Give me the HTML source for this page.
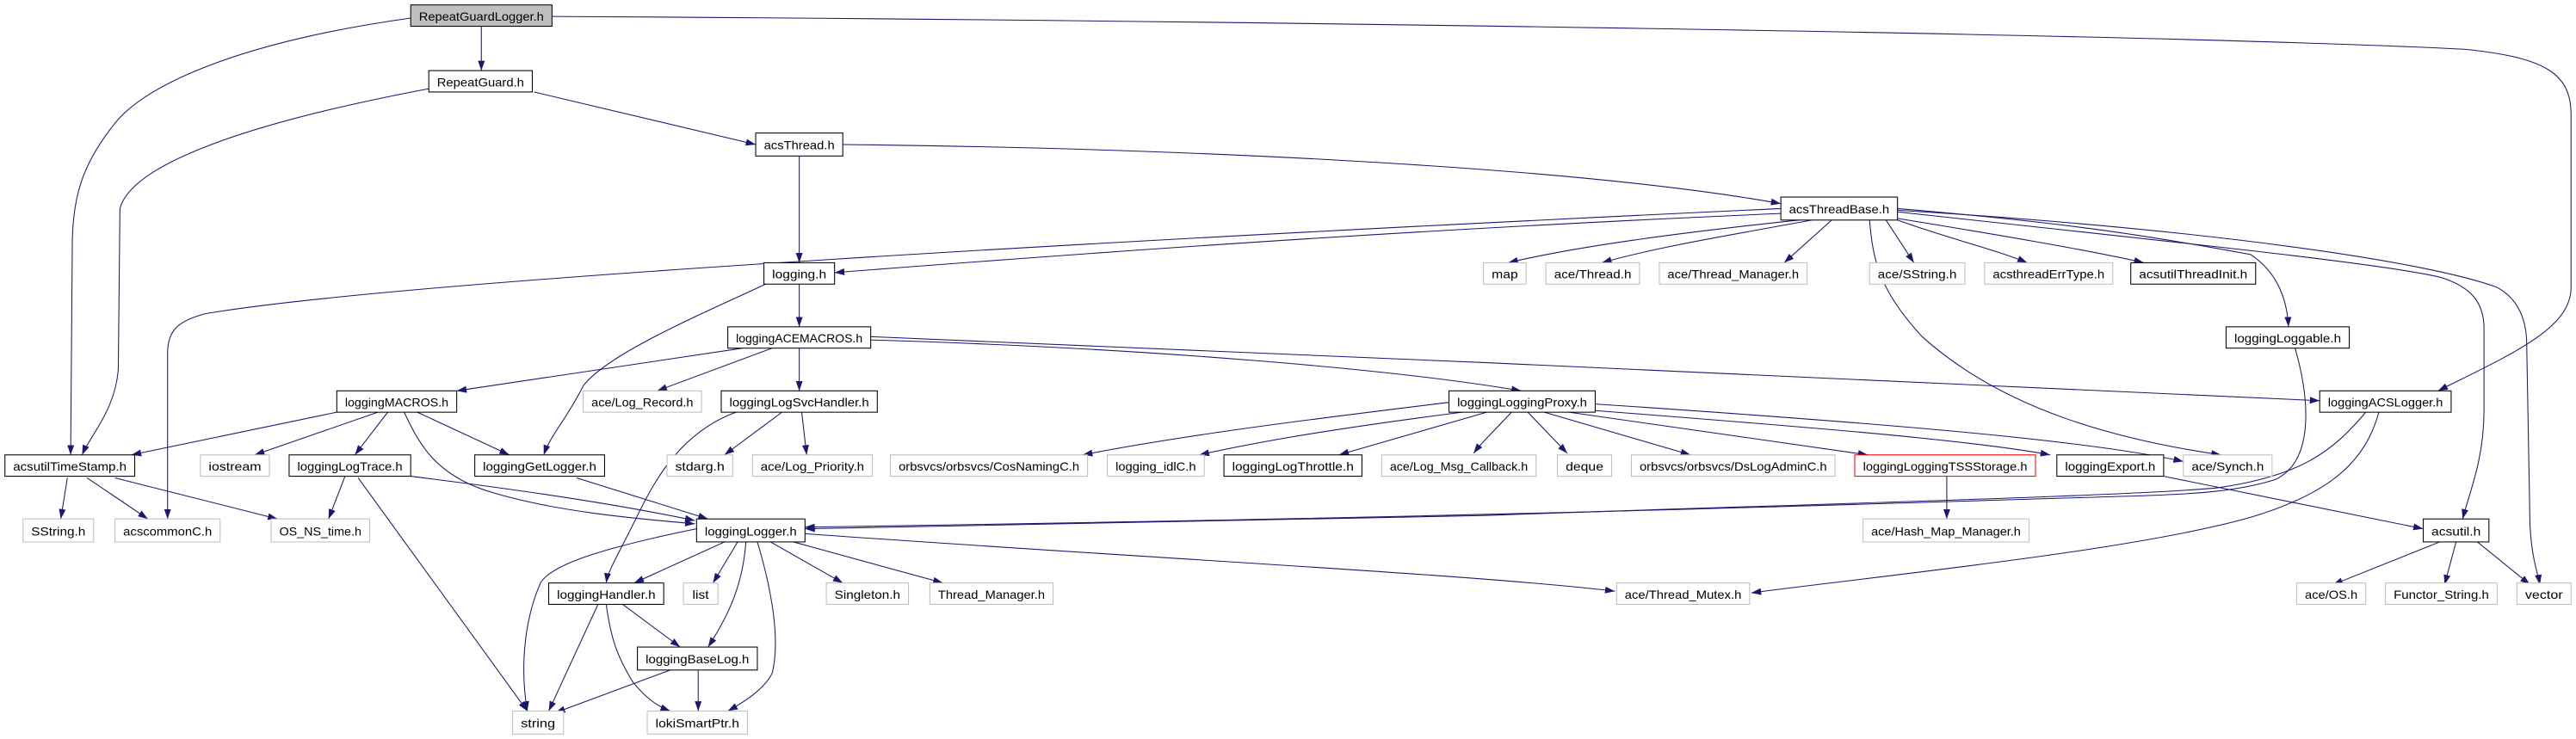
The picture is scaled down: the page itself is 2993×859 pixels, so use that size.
<!DOCTYPE html>
<html><head><meta charset="utf-8"><style>
html,body{margin:0;padding:0;background:#fff;}
svg{display:block;}
text{font-family:"Liberation Sans",sans-serif;font-size:7px;fill:#000;}
.e{fill:none;stroke:#191970;stroke-width:0.55;}
.b{fill:#fff;stroke:#000;stroke-width:0.55;}
.g{fill:#fff;stroke:#bfbfbf;stroke-width:0.55;}
.r{fill:#fff;stroke:#f00;stroke-width:0.55;}
</style></head><body>
<svg width="2993" height="859" viewBox="0 0 1568 450" preserveAspectRatio="none" xmlns="http://www.w3.org/2000/svg">
<defs><marker id="a" viewBox="0 0 10 7" refX="10" refY="3.5" markerWidth="6" markerHeight="4.2" markerUnits="userSpaceOnUse" orient="auto"><path d="M0,0L10,3.5L0,7z" fill="#191970"/></marker></defs>
<g marker-end="url(#a)">
<path class="e" d="M293,16 L293,43"/>
<path class="e" d="M250,11 C150,25 90,50 70,75 C50,100 44,120 44,150 L43,277"/>
<path class="e" d="M336,10 C700,12 1300,20 1500,30 C1550,35 1565,45 1565,70 L1565,175 C1565,200 1530,215 1484,238"/>
<path class="e" d="M325,56 L460,88"/>
<path class="e" d="M261,54 C150,75 80,100 73,127 L72,225 C70,250 55,265 50,277"/>
<path class="e" d="M513,88 C700,90 950,100 1084,124"/>
<path class="e" d="M486.5,95 L486.5,160"/>
<path class="e" d="M1084,127 C700,145 250,170 125,191 C110,195 102,200 102,215 L102,316"/>
<path class="e" d="M1084,130 C850,140 650,155 508,166"/>
<path class="e" d="M1095,134 C1020,142 960,150 918,160"/>
<path class="e" d="M1103,134 C1060,142 1010,150 975,160"/>
<path class="e" d="M1115,134 L1086,160"/>
<path class="e" d="M1148,134 L1165,160"/>
<path class="e" d="M1155,134 C1185,145 1215,152 1234,160"/>
<path class="e" d="M1155,133 C1210,142 1270,152 1305,160"/>
<path class="e" d="M1155,127 C1250,135 1300,142 1370,155 C1385,165 1392,180 1393,199"/>
<path class="e" d="M1155,129 C1300,145 1450,160 1486,169 C1505,175 1512,185 1512,200 L1512,250 C1512,280 1503,300 1499,316"/>
<path class="e" d="M1155,128 C1350,140 1480,160 1520,175 C1533,182 1538,195 1538,210 L1540,320 C1541,340 1545,350 1546,356"/>
<path class="e" d="M1138,134 C1140,160 1145,178 1170,205 C1220,250 1290,268 1352,277"/>
<path class="e" d="M486.5,173 L486.5,199"/>
<path class="e" d="M466,173 C430,190 370,215 355,235 C345,255 335,265 331,277"/>
<path class="e" d="M452,212 L278,238"/>
<path class="e" d="M470,212 L400,238"/>
<path class="e" d="M486.5,212 L486.5,238"/>
<path class="e" d="M530,207 C700,212 850,225 926,238"/>
<path class="e" d="M530,205 C800,215 1200,235 1412,244"/>
<path class="e" d="M205,251 L80,277"/>
<path class="e" d="M230,251 L155,277"/>
<path class="e" d="M236,251 L216,277"/>
<path class="e" d="M254,251 L310,277"/>
<path class="e" d="M246,251 C255,270 265,290 300,300 C340,312 390,316 423,319"/>
<path class="e" d="M476,251 L441,277"/>
<path class="e" d="M488,251 L491,277"/>
<path class="e" d="M448,251 C410,265 395,300 385,320 C375,340 370,348 369,355"/>
<path class="e" d="M210,290 L200,316"/>
<path class="e" d="M218,291 L321,433"/>
<path class="e" d="M250,290 C330,300 380,308 423,317"/>
<path class="e" d="M351,291 L431,316"/>
<path class="e" d="M41,291 L37,316"/>
<path class="e" d="M53,291 L90,316"/>
<path class="e" d="M70,291 L169,316"/>
<path class="e" d="M424,322 C360,335 335,345 329,355 C318,380 317,410 321,433"/>
<path class="e" d="M441,330 L386,355"/>
<path class="e" d="M449,330 L434,355"/>
<path class="e" d="M454,330 C452,360 440,380 431,394"/>
<path class="e" d="M461,330 C470,360 475,390 470,410 C465,420 452,428 443,433"/>
<path class="e" d="M469,330 L513,355"/>
<path class="e" d="M483,330 L574,355"/>
<path class="e" d="M490,325 C700,340 900,350 983,360"/>
<path class="e" d="M364,368 L334,433"/>
<path class="e" d="M369,368 C372,390 376,400 385,415 C393,425 400,430 408,433"/>
<path class="e" d="M379,368 L414,394"/>
<path class="e" d="M408,408 L338,434"/>
<path class="e" d="M425,408 L425,433"/>
<path class="e" d="M882,245 C800,255 720,265 659,277"/>
<path class="e" d="M890,251 C820,260 770,268 730,277"/>
<path class="e" d="M905,251 L815,277"/>
<path class="e" d="M920,251 C910,262 903,268 897,276"/>
<path class="e" d="M930,251 L954,276"/>
<path class="e" d="M940,251 L1029,277"/>
<path class="e" d="M955,251 L1137,277"/>
<path class="e" d="M971,250 C1100,260 1200,268 1248,277"/>
<path class="e" d="M971,246 C1150,258 1270,268 1329,281"/>
<path class="e" d="M1185,290 L1185,316"/>
<path class="e" d="M1317,290 L1475,322"/>
<path class="e" d="M1397,212 C1405,240 1410,280 1385,292 C1360,300 1330,301 1300,302 C1100,308 900,315 490,321"/>
<path class="e" d="M1440,251 C1420,275 1400,290 1350,297 C1300,302 1100,307 900,314 C750,318 600,321 490,322"/>
<path class="e" d="M1448,251 C1440,280 1420,300 1370,315 C1300,335 1150,350 1066,361"/>
<path class="e" d="M1485,330 L1420,356"/>
<path class="e" d="M1495,330 L1488,356"/>
<path class="e" d="M1508,330 L1540,356"/>
</g>
<g>
<rect x="250" y="3" width="86" height="13" fill="#bfbfbf" stroke="#000" stroke-width="0.55"/><text x="293" y="12.6" text-anchor="middle" textLength="76" lengthAdjust="spacingAndGlyphs">RepeatGuardLogger.h</text>
<rect class="b" x="261" y="43" width="63" height="13"/><text x="292.5" y="52.6" text-anchor="middle" textLength="53" lengthAdjust="spacingAndGlyphs">RepeatGuard.h</text>
<rect class="b" x="460" y="81" width="53" height="14"/><text x="486.5" y="91" text-anchor="middle" textLength="43" lengthAdjust="spacingAndGlyphs">acsThread.h</text>
<rect class="b" x="1084" y="120" width="71" height="14"/><text x="1119.5" y="130" text-anchor="middle" textLength="61" lengthAdjust="spacingAndGlyphs">acsThreadBase.h</text>
<rect class="b" x="465" y="160" width="43" height="13"/><text x="486.5" y="169.6" text-anchor="middle" textLength="33" lengthAdjust="spacingAndGlyphs">logging.h</text>
<rect class="g" x="903" y="160" width="26" height="13"/><text x="916" y="169.6" text-anchor="middle" textLength="16" lengthAdjust="spacingAndGlyphs">map</text>
<rect class="g" x="941" y="160" width="57" height="13"/><text x="969.5" y="169.6" text-anchor="middle" textLength="47" lengthAdjust="spacingAndGlyphs">ace/Thread.h</text>
<rect class="g" x="1010" y="160" width="90" height="13"/><text x="1055" y="169.6" text-anchor="middle" textLength="80" lengthAdjust="spacingAndGlyphs">ace/Thread_Manager.h</text>
<rect class="g" x="1138" y="160" width="58" height="13"/><text x="1167" y="169.6" text-anchor="middle" textLength="48" lengthAdjust="spacingAndGlyphs">ace/SString.h</text>
<rect class="g" x="1208" y="160" width="78" height="13"/><text x="1247" y="169.6" text-anchor="middle" textLength="68" lengthAdjust="spacingAndGlyphs">acsthreadErrType.h</text>
<rect class="b" x="1297" y="160" width="76" height="13"/><text x="1335" y="169.6" text-anchor="middle" textLength="66" lengthAdjust="spacingAndGlyphs">acsutilThreadInit.h</text>
<rect class="b" x="443" y="199" width="87" height="13"/><text x="486.5" y="208.6" text-anchor="middle" textLength="77" lengthAdjust="spacingAndGlyphs">loggingACEMACROS.h</text>
<rect class="b" x="1355" y="199" width="75" height="13"/><text x="1392.5" y="208.6" text-anchor="middle" textLength="65" lengthAdjust="spacingAndGlyphs">loggingLoggable.h</text>
<rect class="b" x="205" y="238" width="73" height="13"/><text x="241.5" y="247.6" text-anchor="middle" textLength="63" lengthAdjust="spacingAndGlyphs">loggingMACROS.h</text>
<rect class="g" x="355" y="238" width="72" height="13"/><text x="391" y="247.6" text-anchor="middle" textLength="62" lengthAdjust="spacingAndGlyphs">ace/Log_Record.h</text>
<rect class="b" x="439" y="238" width="95" height="13"/><text x="486.5" y="247.6" text-anchor="middle" textLength="85" lengthAdjust="spacingAndGlyphs">loggingLogSvcHandler.h</text>
<rect class="b" x="882" y="238" width="89" height="13"/><text x="926.5" y="247.6" text-anchor="middle" textLength="79" lengthAdjust="spacingAndGlyphs">loggingLoggingProxy.h</text>
<rect class="b" x="1412" y="238" width="80" height="13"/><text x="1452" y="247.6" text-anchor="middle" textLength="70" lengthAdjust="spacingAndGlyphs">loggingACSLogger.h</text>
<rect class="b" x="3" y="277" width="79" height="13"/><text x="42.5" y="286.6" text-anchor="middle" textLength="69" lengthAdjust="spacingAndGlyphs">acsutilTimeStamp.h</text>
<rect class="g" x="122" y="277" width="42" height="13"/><text x="143" y="286.6" text-anchor="middle" textLength="32" lengthAdjust="spacingAndGlyphs">iostream</text>
<rect class="b" x="176" y="277" width="74" height="13"/><text x="213" y="286.6" text-anchor="middle" textLength="64" lengthAdjust="spacingAndGlyphs">loggingLogTrace.h</text>
<rect class="b" x="289" y="277" width="79" height="13"/><text x="328.5" y="286.6" text-anchor="middle" textLength="69" lengthAdjust="spacingAndGlyphs">loggingGetLogger.h</text>
<rect class="g" x="406" y="277" width="40" height="13"/><text x="426" y="286.6" text-anchor="middle" textLength="30" lengthAdjust="spacingAndGlyphs">stdarg.h</text>
<rect class="g" x="458" y="277" width="73" height="13"/><text x="494.5" y="286.6" text-anchor="middle" textLength="63" lengthAdjust="spacingAndGlyphs">ace/Log_Priority.h</text>
<rect class="g" x="542" y="277" width="120" height="13"/><text x="602" y="286.6" text-anchor="middle" textLength="110" lengthAdjust="spacingAndGlyphs">orbsvcs/orbsvcs/CosNamingC.h</text>
<rect class="g" x="674" y="277" width="59" height="13"/><text x="703.5" y="286.6" text-anchor="middle" textLength="49" lengthAdjust="spacingAndGlyphs">logging_idlC.h</text>
<rect class="b" x="745" y="277" width="84" height="13"/><text x="787" y="286.6" text-anchor="middle" textLength="74" lengthAdjust="spacingAndGlyphs">loggingLogThrottle.h</text>
<rect class="g" x="841" y="277" width="94" height="13"/><text x="888" y="286.6" text-anchor="middle" textLength="84" lengthAdjust="spacingAndGlyphs">ace/Log_Msg_Callback.h</text>
<rect class="g" x="948" y="277" width="33" height="13"/><text x="964.5" y="286.6" text-anchor="middle" textLength="23" lengthAdjust="spacingAndGlyphs">deque</text>
<rect class="g" x="993" y="277" width="124" height="13"/><text x="1055" y="286.6" text-anchor="middle" textLength="114" lengthAdjust="spacingAndGlyphs">orbsvcs/orbsvcs/DsLogAdminC.h</text>
<rect class="r" x="1129" y="277" width="110" height="13"/><text x="1184" y="286.6" text-anchor="middle" textLength="100" lengthAdjust="spacingAndGlyphs">loggingLoggingTSSStorage.h</text>
<rect class="b" x="1252" y="277" width="65" height="13"/><text x="1284.5" y="286.6" text-anchor="middle" textLength="55" lengthAdjust="spacingAndGlyphs">loggingExport.h</text>
<rect class="g" x="1329" y="277" width="54" height="13"/><text x="1356" y="286.6" text-anchor="middle" textLength="44" lengthAdjust="spacingAndGlyphs">ace/Synch.h</text>
<rect class="g" x="14" y="316" width="43" height="14"/><text x="35.5" y="326" text-anchor="middle" textLength="33" lengthAdjust="spacingAndGlyphs">SString.h</text>
<rect class="g" x="70" y="316" width="64" height="14"/><text x="102" y="326" text-anchor="middle" textLength="54" lengthAdjust="spacingAndGlyphs">acscommonC.h</text>
<rect class="g" x="165" y="316" width="60" height="14"/><text x="195" y="326" text-anchor="middle" textLength="50" lengthAdjust="spacingAndGlyphs">OS_NS_time.h</text>
<rect class="b" x="424" y="316" width="66" height="14"/><text x="457" y="326" text-anchor="middle" textLength="56" lengthAdjust="spacingAndGlyphs">loggingLogger.h</text>
<rect class="g" x="1134" y="316" width="101" height="14"/><text x="1184.5" y="326" text-anchor="middle" textLength="91" lengthAdjust="spacingAndGlyphs">ace/Hash_Map_Manager.h</text>
<rect class="b" x="1475" y="316" width="40" height="14"/><text x="1495" y="326" text-anchor="middle" textLength="30" lengthAdjust="spacingAndGlyphs">acsutil.h</text>
<rect class="b" x="334" y="355" width="70" height="13"/><text x="369" y="364.6" text-anchor="middle" textLength="60" lengthAdjust="spacingAndGlyphs">loggingHandler.h</text>
<rect class="g" x="416" y="355" width="21" height="13"/><text x="426.5" y="364.6" text-anchor="middle" textLength="10" lengthAdjust="spacingAndGlyphs">list</text>
<rect class="g" x="503" y="355" width="50" height="13"/><text x="528" y="364.6" text-anchor="middle" textLength="40" lengthAdjust="spacingAndGlyphs">Singleton.h</text>
<rect class="g" x="566" y="355" width="75" height="13"/><text x="603.5" y="364.6" text-anchor="middle" textLength="65" lengthAdjust="spacingAndGlyphs">Thread_Manager.h</text>
<rect class="g" x="984" y="355" width="81" height="13"/><text x="1024.5" y="364.6" text-anchor="middle" textLength="71" lengthAdjust="spacingAndGlyphs">ace/Thread_Mutex.h</text>
<rect class="g" x="1398" y="355" width="42" height="13"/><text x="1419" y="364.6" text-anchor="middle" textLength="32" lengthAdjust="spacingAndGlyphs">ace/OS.h</text>
<rect class="g" x="1452" y="355" width="68" height="13"/><text x="1486" y="364.6" text-anchor="middle" textLength="58" lengthAdjust="spacingAndGlyphs">Functor_String.h</text>
<rect class="g" x="1532" y="355" width="33" height="13"/><text x="1548.5" y="364.6" text-anchor="middle" textLength="23" lengthAdjust="spacingAndGlyphs">vector</text>
<rect class="b" x="388" y="394" width="73" height="14"/><text x="424.5" y="404" text-anchor="middle" textLength="63" lengthAdjust="spacingAndGlyphs">loggingBaseLog.h</text>
<rect class="g" x="312" y="433" width="31" height="14"/><text x="327.5" y="443" text-anchor="middle" textLength="21" lengthAdjust="spacingAndGlyphs">string</text>
<rect class="g" x="394" y="433" width="61" height="14"/><text x="424.5" y="443" text-anchor="middle" textLength="51" lengthAdjust="spacingAndGlyphs">lokiSmartPtr.h</text>
</g>
</svg>
</body></html>
